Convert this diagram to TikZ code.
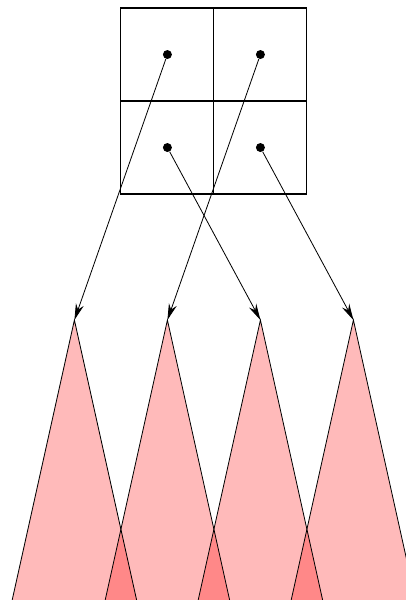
\documentclass[tikz,border=0pt]{standalone}
\usetikzlibrary{arrows.meta}

\begin{document}
\begin{tikzpicture}[line width=0.5pt,>=Stealth,
  dot/.style={circle,fill=black,inner sep=0pt,minimum size=5.5pt},
  cone/.style={red,fill opacity=0.27}]
\useasboundingbox (0,0) rectangle (8.731,12.903);
\clip (0,0) rectangle (8.731,12.903);
% ================= cones =================
\foreach \i in {0,...,3} {
  \pgfmathsetmacro{\xx}{1.6+\i*2}
  \coordinate (apex\i) at (\xx,6.02);
  \fill[cone] (apex\i) -- ++(-2,-9) -- ++(4,0) -- cycle;
}
% cone edges on top of the fills
\foreach \i in {0,...,3} {
  \draw (apex\i) ++(-2,-9) -- (apex\i) -- ++(2,-9);
}
% ================= 2x2 grid =================
\draw[line width=0.7pt] (2.6,8.73) rectangle (6.6,12.73);
\draw[line width=0.7pt] (4.6,8.73) -- (4.6,12.73);
\draw[line width=0.7pt] (2.6,10.73) -- (6.6,10.73);
% cell centres
\node[dot] (tl) at (3.6,11.73) {};
\node[dot] (tr) at (5.6,11.73) {};
\node[dot] (bl) at (3.6,9.73) {};
\node[dot] (br) at (5.6,9.73) {};
% ================= mapping arrows =================
\draw[->,>={Stealth[length=10pt,width=5pt]}] (tl) -- (apex0);
\draw[->,>={Stealth[length=10pt,width=5pt]}] (tr) -- (apex1);
\draw[->,>={Stealth[length=10pt,width=5pt]}] (bl) -- (apex2);
\draw[->,>={Stealth[length=10pt,width=5pt]}] (br) -- (apex3);
\end{tikzpicture}
\end{document}
